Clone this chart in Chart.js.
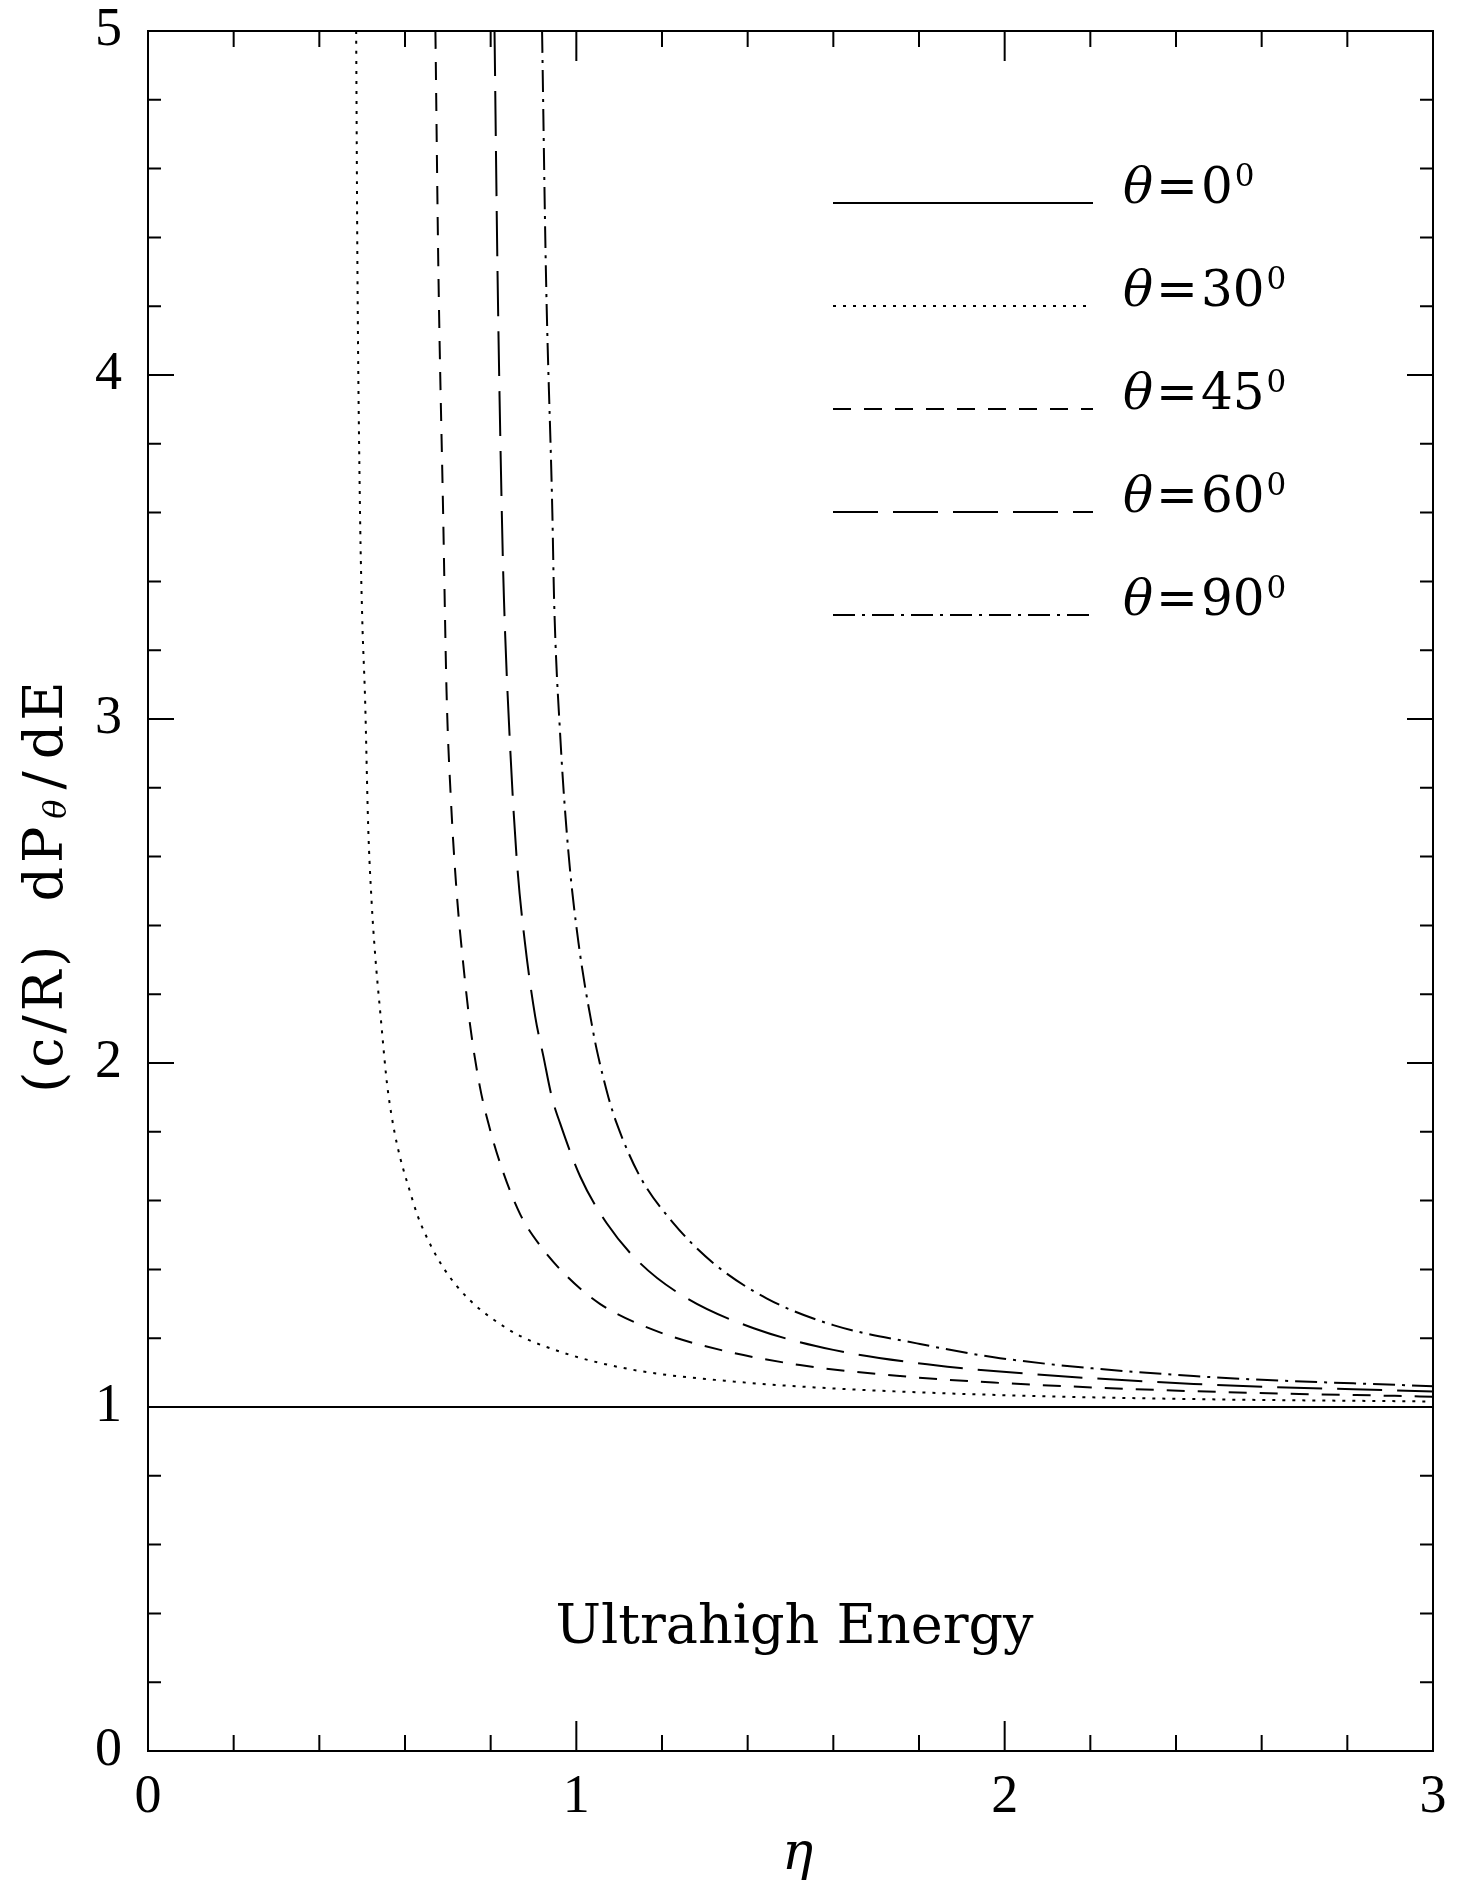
<!DOCTYPE html>
<html>
<head>
<meta charset="utf-8">
<title>Ultrahigh Energy</title>
<script src="https://cdn.jsdelivr.net/npm/chart.js@4.4.1/dist/chart.umd.min.js"></script>
<style>
    html, body { margin: 0; padding: 0; background: #fff; }
    #wrap { width: 1463px; height: 1881px; }
</style>
</head>
<body>
<div id="wrap"><canvas id="chart" width="1463" height="1881"></canvas></div>
<script>
// Data
const angles = [0, 30, 45, 60, 90];

const eta0 = [0, 3];
const val0 = [1, 1];

const eta30 = [0.486, 0.489, 0.495, 0.500, 0.507, 0.514, 0.522, 0.530, 0.542, 0.561, 0.618, 0.66, 0.722, 0.837, 0.962, 1.133, 1.367, 1.600, 1.981, 2.441, 3.0];
const val30 = [5.0, 4.3, 3.6, 3.3, 3.05, 2.69, 2.47, 2.32, 2.15, 1.91, 1.60, 1.47, 1.35, 1.229, 1.161, 1.108, 1.074, 1.054, 1.035, 1.023, 1.016];

const eta45 = [0.671, 0.678, 0.689, 0.697, 0.707, 0.721, 0.735, 0.752, 0.775, 0.80, 0.830, 0.869, 0.915, 0.978, 1.055, 1.180, 1.336, 1.522, 1.756, 1.974, 2.441, 3.0];
const val45 = [5.0, 4.3, 3.6, 3.08, 2.77, 2.49, 2.30, 2.11, 1.93, 1.80, 1.68, 1.56, 1.47, 1.38, 1.30, 1.224, 1.166, 1.122, 1.090, 1.071, 1.046, 1.030];

const eta60 = [0.809, 0.816, 0.826, 0.831, 0.845, 0.861, 0.880, 0.904, 0.923, 0.943, 0.962, 1.009, 1.071, 1.149, 1.258, 1.414, 1.600, 1.833, 1.989, 2.441, 3.0];
const val60 = [5.0, 4.3, 3.6, 3.35, 2.93, 2.59, 2.35, 2.135, 2.02, 1.90, 1.825, 1.67, 1.534, 1.418, 1.316, 1.229, 1.166, 1.122, 1.103, 1.067, 1.045];

const eta90 = [0.920, 0.929, 0.944, 0.948, 0.962, 0.981, 1.005, 1.040, 1.051, 1.075, 1.094, 1.149, 1.227, 1.320, 1.444, 1.600, 1.795, 1.989, 2.441, 3.0];
const val90 = [5.0, 4.3, 3.6, 3.35, 2.96, 2.62, 2.35, 2.086, 2.02, 1.90, 1.825, 1.669, 1.534, 1.418, 1.316, 1.238, 1.185, 1.142, 1.090, 1.060];

const xLabels = ['0', '1', '2', '3'];
const yLabels = ['0', '1', '2', '3', '4', '5'];

// Styles
const dashes = [[], [3, 7], [18, 13], [45, 15], [22, 7, 3, 7]];
const SERIF = '"DejaVu Serif", serif';
const NUMFONT = '"Liberation Serif", "DejaVu Serif", serif';

const pts = (xs, ys) => xs.map((x, i) => ({ x, y: ys[i] }));
const series = [pts(eta0, val0), pts(eta30, val30), pts(eta45, val45), pts(eta60, val60), pts(eta90, val90)];

const isInt = v => Math.abs(v - Math.round(v)) < 1e-6;

// Frame, inward ticks, legend and labels
const decor = {
    id: 'decor',
    afterDraw(chart) {
        const { ctx, chartArea: a, scales: { x, y } } = chart;
        ctx.save();
        ctx.strokeStyle = '#000';
        ctx.lineWidth = 2;
        ctx.setLineDash([]);
        ctx.strokeRect(a.left, a.top, a.right - a.left, a.bottom - a.top);

        ctx.beginPath();
        x.ticks.forEach(t => {
            const px = x.getPixelForValue(t.value);
            const len = isInt(t.value) ? 30 : 16;
            ctx.moveTo(px, a.bottom); ctx.lineTo(px, a.bottom - len);
            ctx.moveTo(px, a.top); ctx.lineTo(px, a.top + len);
        });
        y.ticks.forEach(t => {
            const py = y.getPixelForValue(t.value);
            const len = isInt(t.value) ? 26 : 13;
            ctx.moveTo(a.left, py); ctx.lineTo(a.left + len, py);
            ctx.moveTo(a.right, py); ctx.lineTo(a.right - len, py);
        });
        ctx.stroke();

        // Legend
        const lx0 = a.left + 685, lx1 = a.left + 945, tx = a.left + 975;
        chart.data.datasets.forEach((ds, i) => {
            const ly = a.top + 172 + i * 103;
            ctx.setLineDash(ds.borderDash || []);
            ctx.lineWidth = ds.borderWidth;
            ctx.beginPath();
            ctx.moveTo(lx0, ly); ctx.lineTo(lx1, ly);
            ctx.stroke();
            ctx.setLineDash([]);
            ctx.fillStyle = '#000';
            ctx.textBaseline = 'alphabetic';
            ctx.textAlign = 'left';
            ctx.font = 'italic 50px ' + SERIF;
            let cx = tx;
            ctx.fillText('θ', cx, ly);
            cx += ctx.measureText('θ').width + 3;
            ctx.font = '50px ' + SERIF;
            ctx.fillText('=', cx, ly);
            cx += ctx.measureText('=').width + 3;
            ctx.fillText(String(ds.angle), cx, ly);
            cx += ctx.measureText(String(ds.angle)).width + 2;
            ctx.font = '31px ' + SERIF;
            ctx.fillText('0', cx, ly - 17);
        });

        // Annotation
        ctx.font = '54px ' + SERIF;
        ctx.textAlign = 'center';
        ctx.textBaseline = 'alphabetic';
        ctx.fillText('Ultrahigh Energy', x.getPixelForValue(1.5) + 4, y.getPixelForValue(0.314));

        // x-axis title
        ctx.font = 'italic 52px ' + SERIF;
        ctx.textBaseline = 'middle';
        ctx.fillText('η', (a.left + a.right) / 2 + 7, 1855);

        // y-axis title with subscript theta
        ctx.translate(48, (a.top + a.bottom) / 2 - 6);
        ctx.rotate(-Math.PI / 2);
        const parts = [
            { t: '(c/R)', f: '54px ' + SERIF, dy: 0, gap: 40 },
            { t: 'dP', f: '54px ' + SERIF, dy: 0, gap: 4 },
            { t: 'θ', f: 'italic 32px ' + SERIF, dy: 10, gap: 6 },
            { t: '/', f: '54px ' + SERIF, dy: 0, gap: 8 },
            { t: 'dE', f: '54px ' + SERIF, dy: 0, gap: 0 }
        ];
        ctx.letterSpacing = '4px';
        let total = 0;
        parts.forEach(p => { ctx.font = p.f; p.w = ctx.measureText(p.t).width; total += p.w + p.gap; });
        let cx = -total / 2;
        ctx.textAlign = 'left';
        parts.forEach(p => {
            ctx.font = p.f;
            ctx.fillText(p.t, cx, p.dy);
            cx += p.w + p.gap;
        });
        ctx.restore();
    }
};

const chart = new Chart(document.getElementById('chart'), {
    type: 'line',
    data: {
        datasets: series.map((data, i) => ({
            label: 'θ=' + angles[i] + '°',
            angle: angles[i],
            data,
            borderColor: '#000',
            borderWidth: 2,
            borderDash: dashes[i],
            pointRadius: 0,
            fill: false,
            cubicInterpolationMode: 'monotone'
        }))
    },
    options: {
        responsive: false,
        animation: false,
        devicePixelRatio: 1,
        layout: { padding: { top: 31, right: 30, left: 0, bottom: 0 } },
        plugins: { legend: { display: false }, tooltip: { enabled: false } },
        scales: {
            x: {
                type: 'linear', min: 0, max: 3,
                afterFit: s => { s.height = 130; s.paddingLeft = 0; s.paddingRight = 0; },
                grid: { display: false, drawTicks: false },
                border: { display: false },
                ticks: {
                    stepSize: 0.2, padding: 14, color: '#000', maxRotation: 0, autoSkip: false,
                    font: { family: NUMFONT, size: 54 },
                    callback: v => isInt(v) ? xLabels[Math.round(v)] : ''
                }
            },
            y: {
                type: 'linear', min: 0, max: 5,
                afterFit: s => { s.width = 148; s.paddingTop = 0; s.paddingBottom = 0; },
                grid: { display: false, drawTicks: false },
                border: { display: false },
                ticks: {
                    stepSize: 0.2, padding: 26, color: '#000', autoSkip: false,
                    font: { family: NUMFONT, size: 54 },
                    callback: v => isInt(v) ? yLabels[Math.round(v)] : ''
                }
            }
        }
    },
    plugins: [decor]
});
</script>
</body>
</html>
